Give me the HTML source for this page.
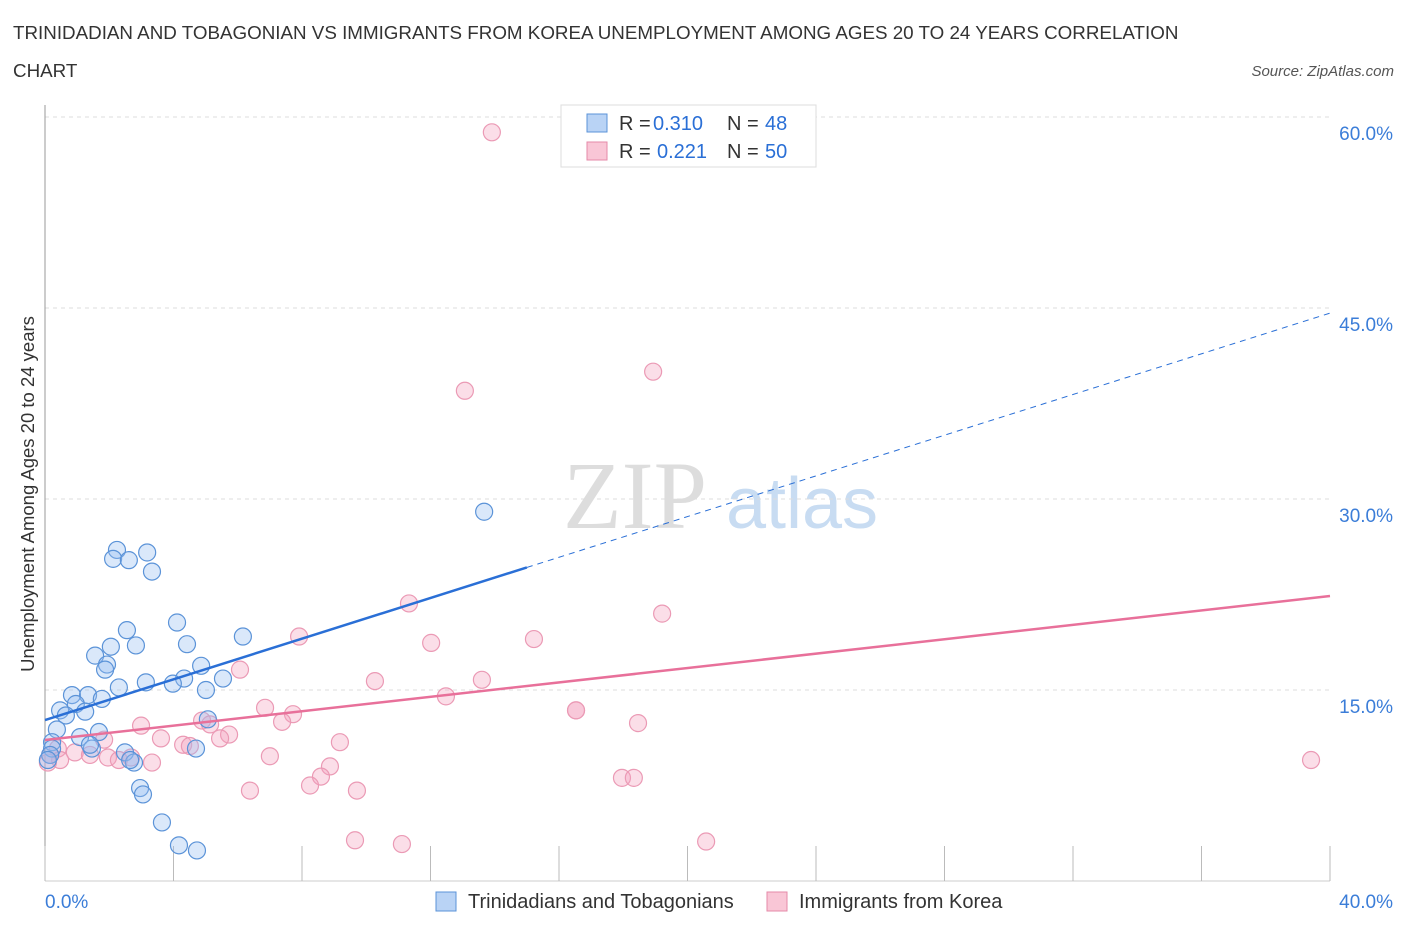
<!DOCTYPE html>
<html><head><meta charset="utf-8"><style>
body{margin:0;background:#fff;}
svg text{font-family:"Liberation Sans",sans-serif;}
</style></head><body>
<svg id="c" width="1406" height="930">
<text x="13" y="39" font-size="18.8" fill="#333">TRINIDADIAN AND TOBAGONIAN VS IMMIGRANTS FROM KOREA UNEMPLOYMENT AMONG AGES 20 TO 24 YEARS CORRELATION</text>
<text x="13" y="77" font-size="18.8" fill="#333">CHART</text>
<text x="1394" y="76" font-size="15" fill="#555" font-style="italic" text-anchor="end">Source: ZipAtlas.com</text>
<text x="635" y="528" font-size="96" fill="#ddd" style="font-family:'Liberation Serif',serif" text-anchor="middle">ZIP</text>
<text x="802" y="528" font-size="72" fill="#c8dcf2" text-anchor="middle">atlas</text>
<text transform="translate(34,494) rotate(-90)" font-size="18.5" fill="#333" text-anchor="middle">Unemployment Among Ages 20 to 24 years</text>
<g id="grid"></g><g id="marks"></g>
<g>
<rect x="561" y="105" width="255" height="62" fill="#fff" stroke="#ddd"/>
<rect x="587" y="114" width="20" height="18" fill="#b9d3f5" stroke="#5b93d8"/>
<rect x="587" y="142" width="20" height="18" fill="#f9c6d6" stroke="#e58aa8"/>
<text x="619" y="130" font-size="20" fill="#333">R =</text>
<text x="653" y="130" font-size="20" fill="#2a6fd6">0.310</text>
<text x="727" y="130" font-size="20" fill="#333">N =</text>
<text x="765" y="130" font-size="20" fill="#2a6fd6">48</text>
<text x="619" y="158" font-size="20" fill="#333">R =</text>
<text x="657" y="158" font-size="20" fill="#2a6fd6">0.221</text>
<text x="727" y="158" font-size="20" fill="#333">N =</text>
<text x="765" y="158" font-size="20" fill="#2a6fd6">50</text>
</g>
<g>
<rect x="436" y="892" width="20" height="19" fill="#b9d3f5" stroke="#5b93d8"/>
<text x="468" y="908" font-size="20" fill="#333">Trinidadians and Tobagonians</text>
<rect x="767" y="892" width="20" height="19" fill="#f9c6d6" stroke="#e58aa8"/>
<text x="799" y="908" font-size="20" fill="#333">Immigrants from Korea</text>
</g>
</svg>
<script>
const yTicks=[15,30,45,60];
const xTickLabels=["0.0%","40.0%"];
const blueX=[2.24,2.12,2.61,3.18,3.33,13.67,4.11,2.55,4.42,2.05,2.83,1.56,1.93,1.87,6.16,4.86,4.33,5.54,3.14,3.98,2.30,5.01,0.84,1.34,1.77,0.96,0.47,1.25,0.65,5.07,0.37,1.68,1.09,0.22,0.22,1.46,2.49,4.70,2.77,2.96,3.05,3.64,4.17,4.73,0.16,0.09,2.65,1.40];
const blueY=[26.0,25.3,25.2,25.8,24.3,29.0,20.3,19.7,18.6,18.4,18.5,17.7,17.0,16.6,19.2,16.9,15.9,15.9,15.6,15.5,15.2,15.0,14.6,14.6,14.3,13.9,13.4,13.3,13.0,12.7,11.9,11.7,11.3,10.9,10.4,10.4,10.1,10.4,9.3,7.3,6.8,4.6,2.8,2.4,9.9,9.5,9.5,10.7];
const pinkX=[13.91,18.93,13.07,11.33,19.21,15.22,7.91,12.02,6.07,10.27,13.60,12.48,16.53,16.53,6.85,7.72,18.46,4.89,7.38,2.99,5.73,3.61,5.14,4.30,9.18,4.51,1.84,5.45,0.40,0.93,0.16,1.40,1.96,2.30,3.33,7.00,2.68,8.87,8.59,8.25,6.38,9.71,17.96,18.33,39.41,9.65,11.11,20.58,0.47,0.09];
const pinkY=[58.8,40.0,38.5,21.8,21.0,19.0,19.2,18.7,16.6,15.7,15.8,14.5,13.4,13.4,13.6,13.1,12.4,12.6,12.5,12.2,11.5,11.2,12.3,10.7,10.9,10.6,11.1,11.2,10.4,10.1,9.9,9.9,9.7,9.5,9.3,9.8,9.7,9.0,8.2,7.5,7.1,7.1,8.1,8.1,9.5,3.2,2.9,3.1,9.5,9.3];
const blueTrend=[12.64,44.6], blueSolidEnd=15.0;
const pinkTrend=[11.07,22.38];
const X=v=>45+v*32.125, Y=v=>881-v*12.733;
const NS="http://www.w3.org/2000/svg";
function mk(t,a,p){const e=document.createElementNS(NS,t);for(const k in a)e.setAttribute(k,a[k]);p.appendChild(e);return e;}
const g=document.getElementById('grid'), m=document.getElementById('marks');
yTicks.forEach(t=>{
 const l=mk('line',{x1:45,x2:1330,y1:Y(t),y2:Y(t),stroke:'#ddd','stroke-dasharray':'4,4'},g);
 
 
 const tx=mk('text',{x:1393,y:Y(t)+23,'font-size':19,fill:'#3b7dd8','text-anchor':'end'},g);
 tx.textContent=t.toFixed(1)+'%';
 
 
});
mk('line',{x1:45,x2:45,y1:105,y2:881,stroke:'#999'},g);
mk('line',{x1:45,x2:1330,y1:881,y2:881,stroke:'#ccc'},g);
for(let i=0;i<=10;i++){const x=X(i*4);mk('line',{x1:x,x2:x,y1:846,y2:881,stroke:'#bbb'},g);}
const tl0=mk('text',{x:45,y:908,'font-size':19,fill:'#3b7dd8'},g);tl0.textContent=xTickLabels[0];


const tl1=mk('text',{x:1393,y:908,'font-size':19,fill:'#3b7dd8','text-anchor':'end'},g);tl1.textContent=xTickLabels[1];


pinkX.forEach((x,i)=>{const c=mk('circle',{cx:X(x),cy:Y(pinkY[i]),r:8.5,fill:'rgba(244,160,190,0.35)',stroke:'#eb9ab5','stroke-width':1.2},m);
 
 });
blueX.forEach((x,i)=>{const c=mk('circle',{cx:X(x),cy:Y(blueY[i]),r:8.5,fill:'rgba(150,190,240,0.35)',stroke:'#5b93d8','stroke-width':1.2},m);
 
 });
const bAt=x=>blueTrend[0]+(blueTrend[1]-blueTrend[0])*x/40;
const pAt=x=>pinkTrend[0]+(pinkTrend[1]-pinkTrend[0])*x/40;
const b1=mk('line',{x1:X(0),y1:Y(bAt(0)),x2:X(blueSolidEnd),y2:Y(bAt(blueSolidEnd)),stroke:'#2a6fd6','stroke-width':2.5},m);


const b2=mk('line',{x1:X(blueSolidEnd),y1:Y(bAt(blueSolidEnd)),x2:X(40),y2:Y(bAt(40)),stroke:'#2a6fd6','stroke-width':1,'stroke-dasharray':'6,5'},m);


const p1=mk('line',{x1:X(0),y1:Y(pAt(0)),x2:X(40),y2:Y(pAt(40)),stroke:'#e8709a','stroke-width':2.5},m);


</script>
</body></html>
